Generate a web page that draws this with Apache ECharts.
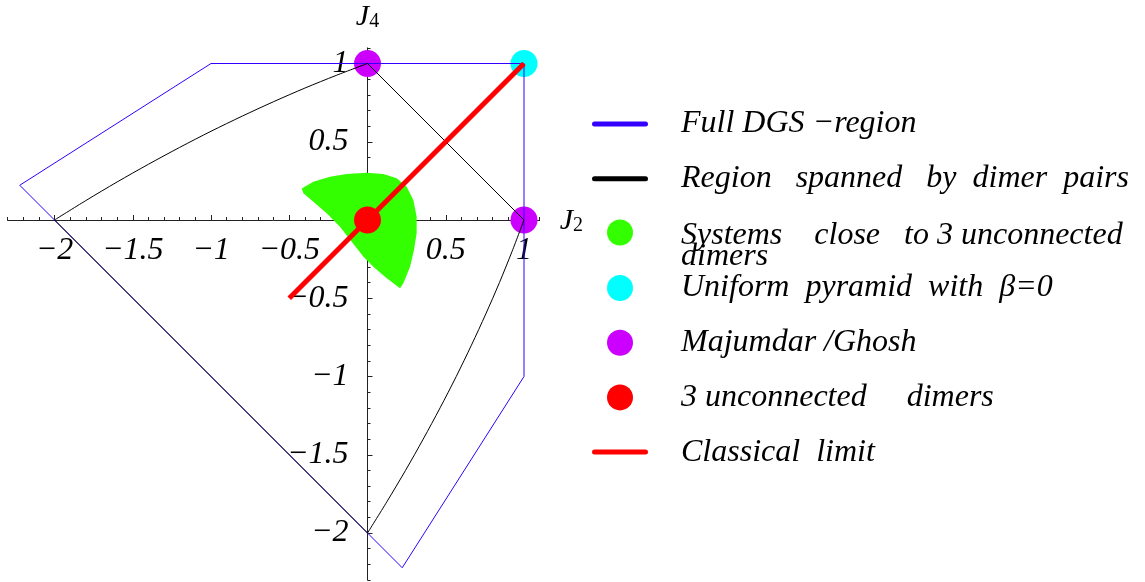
<!DOCTYPE html>
<html lang="en">
<head>
  <meta charset="UTF-8">
  <title>DGS region</title>
  <style>
    html, body { margin: 0; padding: 0; background: #fff; }
    #main { width: 1145px; height: 582px; }
  </style>
</head>
<body>
  <div id="main"></div>
  <script src="https://cdn.jsdelivr.net/npm/echarts@6/dist/echarts.min.js"></script>
  <script>
    // full DGS region (closed polygon)
    var dgsRegion = [[-1, 1], [1, 1], [1, -1], [0.222, -2.222], [0, -2], [-2, 0], [-2.222, 0.222], [-1, 1]];

    // region spanned by dimer pairs: curved edges (-2,0)->(0,1) and (1,0)->(0,-2)
    var topCurve = [[-2, 0], [-1.8, 0.124], [-1.6, 0.243], [-1.4, 0.356], [-1.2, 0.464], [-1, 0.567],
      [-0.8, 0.664], [-0.6, 0.756], [-0.4, 0.843], [-0.2, 0.924], [0, 1]];
    var bottomCurve = [[1, 0], [0.924, -0.2], [0.843, -0.4], [0.756, -0.6], [0.664, -0.8], [0.567, -1],
      [0.464, -1.2], [0.356, -1.4], [0.243, -1.6], [0.124, -1.8], [0, -2]];
    // straight edges of the same region
    var regionEdges = [[0, 1], [1, 0], '-', [0, -2], [-2, 0]];

    // systems close to 3 unconnected dimers (outline of the green blob)
    var greenBlob = [[-0.42, 0.202], [-0.346, 0.245], [-0.24, 0.277], [-0.133, 0.294], [-0.005, 0.302],
      [0.101, 0.294], [0.187, 0.266], [0.25, 0.213], [0.293, 0.128], [0.314, 0.021], [0.314, -0.085],
      [0.297, -0.192], [0.272, -0.298], [0.229, -0.404], [0.208, -0.436], [0.123, -0.373], [0.037, -0.298],
      [-0.027, -0.234], [-0.101, -0.139], [-0.176, -0.043], [-0.261, 0.043], [-0.346, 0.117], [-0.41, 0.171]];

    var pyramidPts = [[1, 1]];
    var mgPts = [[0, 1], [1, 0]];
    var dimerPts = [[0, 0]];
    var classicalLine = [[-0.5, -0.5], [1, 1]];

    var names = ['Full DGS \u2212region', 'Region   spanned   by  dimer  pairs',
      'Systems    close   to 3 unconnected', 'Uniform  pyramid  with  \u03b2=0',
      'Majumdar /Ghosh', '3 unconnected     dimers', 'Classical  limit'];

    var majorTicks = [-2, -1.5, -1, -0.5, 0, 0.5, 1];

    var serif = 'Liberation Serif';
    var lineIcon = 'path://M2.5,0H53.5A2.5,2.5,0,0,1,53.5,5H2.5A2.5,2.5,0,0,1,2.5,0Z';

    // labels only on multiples of 0.5, not on 0
    function fmt(v) {
      var h = v * 2;
      if (Math.abs(h - Math.round(h)) > 1e-6 || Math.abs(v) < 1e-6) return '';
      var r = Math.round(h) / 2;
      return r < 0 ? '\u2212' + Math.abs(r) : '' + r;
    }

    var nameRich = {
      j: { fontFamily: serif, fontStyle: 'italic', fontSize: 30, lineHeight: 30, verticalAlign: 'top', color: '#000' },
      s: { fontFamily: serif, fontSize: 20, lineHeight: 40, verticalAlign: 'middle', color: '#000' }
    };

    var O = 367.5, Y0 = 220, S = 156.5; // origin px, px per unit
    var xMin = -2.3, xMax = 1.1, yMin = -2.3, yMax = 1.1;
    var gLeft = O + xMin * S, gTop = Y0 - yMax * S;
    var gW = (xMax - xMin) * S, gH = (yMax - yMin) * S;
    // axes sit on the zero lines: shift them inward from the grid edges
    var xOff = -(gTop + gH - Y0), yOff = -(O - gLeft);

    var myChart = echarts.init(document.getElementById('main'));

    var legendText = { fontFamily: serif, fontStyle: 'italic', fontSize: 32, color: '#000', lineHeight: 26, padding: [0, 0, 0, 28] };
    var baseLegend = {
      orient: 'vertical',
      left: 592,
      padding: 0,
      itemWidth: 56,
      itemHeight: 26,
      itemGap: 22.7,
      selectedMode: false,
      textStyle: legendText
    };

    var labelStyle = { fontFamily: serif, fontStyle: 'italic', fontSize: 32, color: '#000' };

    function tickAxis(dim) {
      return {
        type: 'value', min: dim === 'x' ? xMin : yMin, max: dim === 'x' ? xMax : yMax,
        position: dim === 'x' ? 'bottom' : 'left',
        offset: dim === 'x' ? xOff : yOff,
        axisLine: { show: false, onZero: false },
        axisTick: { show: true, inside: true, length: 5, customValues: majorTicks, lineStyle: { color: '#222' } },
        axisLabel: { show: false },
        splitLine: { show: false }
      };
    }

    var option = {
      animation: false,
      backgroundColor: '#fff',
      grid: { left: gLeft, top: gTop, width: gW, height: gH, outerBoundsMode: 'none' },
      legend: [
        Object.assign({}, baseLegend, {
          top: 108,
          data: [
            { name: names[0], icon: lineIcon },
            { name: names[1], icon: lineIcon }
          ]
        }),
        Object.assign({}, baseLegend, {
          left: 607,
          top: 197.5,
          formatter: function (n) { return '{e|}\n{a|' + n + '}\n{a|dimers}'; },
          textStyle: Object.assign({}, legendText, {
            lineHeight: 21,
            rich: {
              e: { lineHeight: 28, fontSize: 10 },
              a: { fontFamily: serif, fontStyle: 'italic', fontSize: 32, color: '#000', lineHeight: 21 }
            }
          }),
          data: [{ name: names[2], icon: 'circle' }]
        }),
        Object.assign({}, baseLegend, {
          top: 272,
          data: [
            { name: names[3], icon: 'circle' },
            { name: names[4], icon: 'circle' },
            { name: names[5], icon: 'circle' },
            { name: names[6], icon: lineIcon }
          ]
        })
      ],
      xAxis: [{
        type: 'value', min: xMin, max: xMax, interval: 0.1,
        position: 'bottom', offset: xOff,
        axisLine: { onZero: false, lineStyle: { color: '#222', width: 1 } },
        axisTick: { inside: true, length: 3, lineStyle: { color: '#222' } },
        axisLabel: Object.assign({ interval: 0, formatter: fmt, margin: 15 }, labelStyle),
        splitLine: { show: false },
        name: '{j|J}{s|2}', nameLocation: 'end', nameGap: 20,
        nameTextStyle: { rich: nameRich, padding: [12, 0, 0, 0] }
      }, tickAxis('x')],
      yAxis: [{
        type: 'value', min: yMin, max: yMax, interval: 0.1,
        position: 'left', offset: yOff,
        axisLine: { onZero: false, lineStyle: { color: '#222', width: 1 } },
        axisTick: { inside: true, length: 3, lineStyle: { color: '#222' } },
        axisLabel: Object.assign({ interval: 0, formatter: fmt, margin: 19, padding: [6, 0, 0, 0] }, labelStyle),
        splitLine: { show: false },
        name: '{j|J}{s|4}', nameLocation: 'end', nameGap: 6,
        nameTextStyle: { rich: nameRich }
      }, tickAxis('y')],
      series: [
        {
          name: names[2], type: 'custom', z: 2,
          itemStyle: { color: '#33ff00' },
          data: greenBlob,
          renderItem: function (params, api) {
            if (params.dataIndex !== 0) return null;
            var pts = greenBlob.map(function (p) { return api.coord(p); });
            return { type: 'polygon', shape: { points: pts }, style: { fill: '#33ff00' } };
          }
        },
        {
          name: names[3], type: 'scatter', z: 3, symbolSize: 27,
          itemStyle: { color: '#00ffff', opacity: 1 }, data: pyramidPts
        },
        {
          name: names[4], type: 'scatter', z: 3, symbolSize: 27,
          itemStyle: { color: '#cc00ff', opacity: 1 }, data: mgPts
        },
        {
          name: names[5], type: 'scatter', z: 3, symbolSize: 27,
          itemStyle: { color: '#ff0000', opacity: 1 }, data: dimerPts
        },
        {
          name: names[0], type: 'line', z: 4, symbol: 'none',
          itemStyle: { color: '#3300ff' },
          lineStyle: { color: '#3300ff', width: 1 },
          data: dgsRegion
        },
        {
          name: names[1], type: 'line', z: 5, symbol: 'none', smooth: 0.3,
          itemStyle: { color: '#000' },
          lineStyle: { color: '#000', width: 1 },
          data: topCurve
        },
        {
          name: names[1], type: 'line', z: 5, symbol: 'none', smooth: 0.3,
          itemStyle: { color: '#000' },
          lineStyle: { color: '#000', width: 1 },
          data: bottomCurve
        },
        {
          name: names[1], type: 'line', z: 5, symbol: 'none',
          itemStyle: { color: '#000' },
          lineStyle: { color: '#000', width: 1 },
          data: regionEdges
        },
        {
          name: names[6], type: 'line', z: 6, symbol: 'none',
          itemStyle: { color: '#ff0000' },
          lineStyle: { color: '#ff0000', width: 5 },
          data: classicalLine
        }
      ]
    };

    myChart.setOption(option);
  </script>
</body>
</html>
